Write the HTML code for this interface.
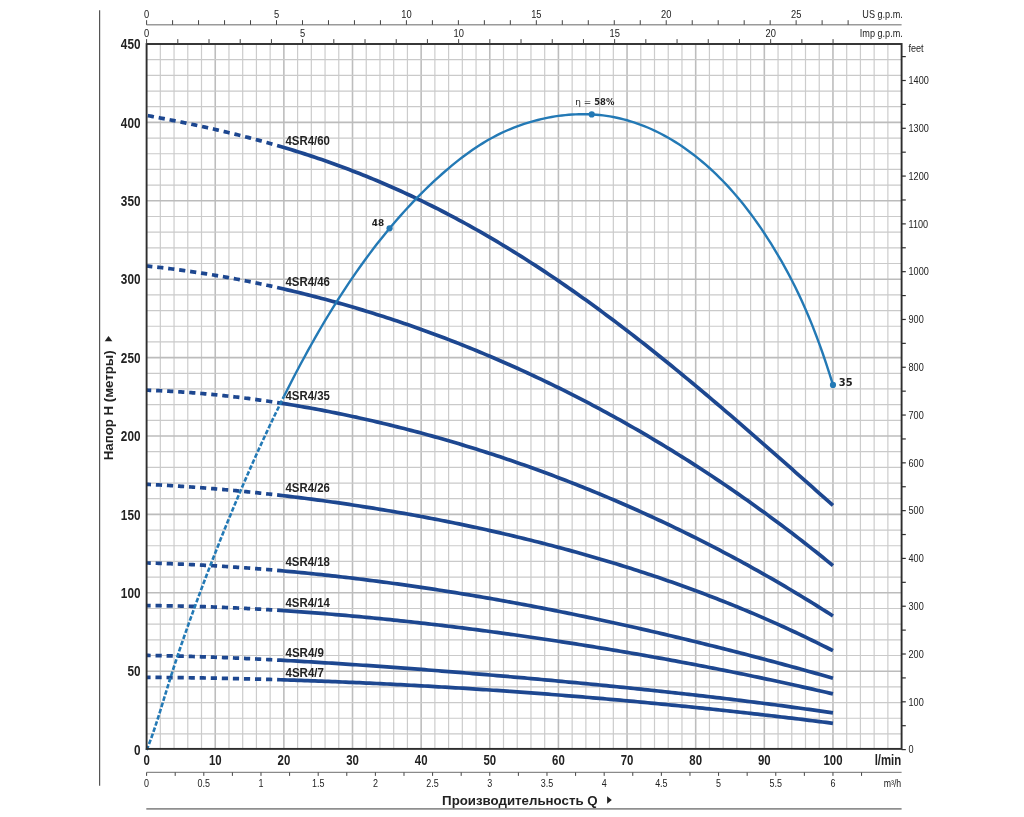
<!DOCTYPE html>
<html><head><meta charset="utf-8"><title>4SR4</title>
<style>html,body{margin:0;padding:0;background:#fff;}svg{display:block;will-change:transform;}</style>
</head><body>
<svg width="1024" height="817" viewBox="0 0 1024 817">
<rect width="1024" height="817" fill="#fff"/>
<line x1="160.33" y1="44.00" x2="160.33" y2="749.60" stroke="#cccccc" stroke-width="1.2"/>
<line x1="174.05" y1="44.00" x2="174.05" y2="749.60" stroke="#cccccc" stroke-width="1.2"/>
<line x1="187.78" y1="44.00" x2="187.78" y2="749.60" stroke="#cccccc" stroke-width="1.2"/>
<line x1="201.51" y1="44.00" x2="201.51" y2="749.60" stroke="#cccccc" stroke-width="1.2"/>
<line x1="215.24" y1="44.00" x2="215.24" y2="749.60" stroke="#bdbdbd" stroke-width="1.6"/>
<line x1="228.96" y1="44.00" x2="228.96" y2="749.60" stroke="#cccccc" stroke-width="1.2"/>
<line x1="242.69" y1="44.00" x2="242.69" y2="749.60" stroke="#cccccc" stroke-width="1.2"/>
<line x1="256.42" y1="44.00" x2="256.42" y2="749.60" stroke="#cccccc" stroke-width="1.2"/>
<line x1="270.15" y1="44.00" x2="270.15" y2="749.60" stroke="#cccccc" stroke-width="1.2"/>
<line x1="283.87" y1="44.00" x2="283.87" y2="749.60" stroke="#bdbdbd" stroke-width="1.6"/>
<line x1="297.60" y1="44.00" x2="297.60" y2="749.60" stroke="#cccccc" stroke-width="1.2"/>
<line x1="311.33" y1="44.00" x2="311.33" y2="749.60" stroke="#cccccc" stroke-width="1.2"/>
<line x1="325.05" y1="44.00" x2="325.05" y2="749.60" stroke="#cccccc" stroke-width="1.2"/>
<line x1="338.78" y1="44.00" x2="338.78" y2="749.60" stroke="#cccccc" stroke-width="1.2"/>
<line x1="352.51" y1="44.00" x2="352.51" y2="749.60" stroke="#bdbdbd" stroke-width="1.6"/>
<line x1="366.24" y1="44.00" x2="366.24" y2="749.60" stroke="#cccccc" stroke-width="1.2"/>
<line x1="379.96" y1="44.00" x2="379.96" y2="749.60" stroke="#cccccc" stroke-width="1.2"/>
<line x1="393.69" y1="44.00" x2="393.69" y2="749.60" stroke="#cccccc" stroke-width="1.2"/>
<line x1="407.42" y1="44.00" x2="407.42" y2="749.60" stroke="#cccccc" stroke-width="1.2"/>
<line x1="421.15" y1="44.00" x2="421.15" y2="749.60" stroke="#bdbdbd" stroke-width="1.6"/>
<line x1="434.87" y1="44.00" x2="434.87" y2="749.60" stroke="#cccccc" stroke-width="1.2"/>
<line x1="448.60" y1="44.00" x2="448.60" y2="749.60" stroke="#cccccc" stroke-width="1.2"/>
<line x1="462.33" y1="44.00" x2="462.33" y2="749.60" stroke="#cccccc" stroke-width="1.2"/>
<line x1="476.05" y1="44.00" x2="476.05" y2="749.60" stroke="#cccccc" stroke-width="1.2"/>
<line x1="489.78" y1="44.00" x2="489.78" y2="749.60" stroke="#bdbdbd" stroke-width="1.6"/>
<line x1="503.51" y1="44.00" x2="503.51" y2="749.60" stroke="#cccccc" stroke-width="1.2"/>
<line x1="517.24" y1="44.00" x2="517.24" y2="749.60" stroke="#cccccc" stroke-width="1.2"/>
<line x1="530.96" y1="44.00" x2="530.96" y2="749.60" stroke="#cccccc" stroke-width="1.2"/>
<line x1="544.69" y1="44.00" x2="544.69" y2="749.60" stroke="#cccccc" stroke-width="1.2"/>
<line x1="558.42" y1="44.00" x2="558.42" y2="749.60" stroke="#bdbdbd" stroke-width="1.6"/>
<line x1="572.15" y1="44.00" x2="572.15" y2="749.60" stroke="#cccccc" stroke-width="1.2"/>
<line x1="585.87" y1="44.00" x2="585.87" y2="749.60" stroke="#cccccc" stroke-width="1.2"/>
<line x1="599.60" y1="44.00" x2="599.60" y2="749.60" stroke="#cccccc" stroke-width="1.2"/>
<line x1="613.33" y1="44.00" x2="613.33" y2="749.60" stroke="#cccccc" stroke-width="1.2"/>
<line x1="627.05" y1="44.00" x2="627.05" y2="749.60" stroke="#bdbdbd" stroke-width="1.6"/>
<line x1="640.78" y1="44.00" x2="640.78" y2="749.60" stroke="#cccccc" stroke-width="1.2"/>
<line x1="654.51" y1="44.00" x2="654.51" y2="749.60" stroke="#cccccc" stroke-width="1.2"/>
<line x1="668.24" y1="44.00" x2="668.24" y2="749.60" stroke="#cccccc" stroke-width="1.2"/>
<line x1="681.96" y1="44.00" x2="681.96" y2="749.60" stroke="#cccccc" stroke-width="1.2"/>
<line x1="695.69" y1="44.00" x2="695.69" y2="749.60" stroke="#bdbdbd" stroke-width="1.6"/>
<line x1="709.42" y1="44.00" x2="709.42" y2="749.60" stroke="#cccccc" stroke-width="1.2"/>
<line x1="723.15" y1="44.00" x2="723.15" y2="749.60" stroke="#cccccc" stroke-width="1.2"/>
<line x1="736.87" y1="44.00" x2="736.87" y2="749.60" stroke="#cccccc" stroke-width="1.2"/>
<line x1="750.60" y1="44.00" x2="750.60" y2="749.60" stroke="#cccccc" stroke-width="1.2"/>
<line x1="764.33" y1="44.00" x2="764.33" y2="749.60" stroke="#bdbdbd" stroke-width="1.6"/>
<line x1="778.05" y1="44.00" x2="778.05" y2="749.60" stroke="#cccccc" stroke-width="1.2"/>
<line x1="791.78" y1="44.00" x2="791.78" y2="749.60" stroke="#cccccc" stroke-width="1.2"/>
<line x1="805.51" y1="44.00" x2="805.51" y2="749.60" stroke="#cccccc" stroke-width="1.2"/>
<line x1="819.24" y1="44.00" x2="819.24" y2="749.60" stroke="#cccccc" stroke-width="1.2"/>
<line x1="832.96" y1="44.00" x2="832.96" y2="749.60" stroke="#bdbdbd" stroke-width="1.6"/>
<line x1="846.69" y1="44.00" x2="846.69" y2="749.60" stroke="#cccccc" stroke-width="1.2"/>
<line x1="860.42" y1="44.00" x2="860.42" y2="749.60" stroke="#cccccc" stroke-width="1.2"/>
<line x1="874.15" y1="44.00" x2="874.15" y2="749.60" stroke="#cccccc" stroke-width="1.2"/>
<line x1="887.87" y1="44.00" x2="887.87" y2="749.60" stroke="#cccccc" stroke-width="1.2"/>
<line x1="146.60" y1="733.92" x2="901.60" y2="733.92" stroke="#cacaca" stroke-width="1.2"/>
<line x1="146.60" y1="718.24" x2="901.60" y2="718.24" stroke="#cacaca" stroke-width="1.2"/>
<line x1="146.60" y1="702.56" x2="901.60" y2="702.56" stroke="#cacaca" stroke-width="1.2"/>
<line x1="146.60" y1="686.88" x2="901.60" y2="686.88" stroke="#cacaca" stroke-width="1.2"/>
<line x1="146.60" y1="671.20" x2="901.60" y2="671.20" stroke="#bcbcbc" stroke-width="1.6"/>
<line x1="146.60" y1="655.52" x2="901.60" y2="655.52" stroke="#cacaca" stroke-width="1.2"/>
<line x1="146.60" y1="639.84" x2="901.60" y2="639.84" stroke="#cacaca" stroke-width="1.2"/>
<line x1="146.60" y1="624.16" x2="901.60" y2="624.16" stroke="#cacaca" stroke-width="1.2"/>
<line x1="146.60" y1="608.48" x2="901.60" y2="608.48" stroke="#cacaca" stroke-width="1.2"/>
<line x1="146.60" y1="592.80" x2="901.60" y2="592.80" stroke="#bcbcbc" stroke-width="1.6"/>
<line x1="146.60" y1="577.12" x2="901.60" y2="577.12" stroke="#cacaca" stroke-width="1.2"/>
<line x1="146.60" y1="561.44" x2="901.60" y2="561.44" stroke="#cacaca" stroke-width="1.2"/>
<line x1="146.60" y1="545.76" x2="901.60" y2="545.76" stroke="#cacaca" stroke-width="1.2"/>
<line x1="146.60" y1="530.08" x2="901.60" y2="530.08" stroke="#cacaca" stroke-width="1.2"/>
<line x1="146.60" y1="514.40" x2="901.60" y2="514.40" stroke="#bcbcbc" stroke-width="1.6"/>
<line x1="146.60" y1="498.72" x2="901.60" y2="498.72" stroke="#cacaca" stroke-width="1.2"/>
<line x1="146.60" y1="483.04" x2="901.60" y2="483.04" stroke="#cacaca" stroke-width="1.2"/>
<line x1="146.60" y1="467.36" x2="901.60" y2="467.36" stroke="#cacaca" stroke-width="1.2"/>
<line x1="146.60" y1="451.68" x2="901.60" y2="451.68" stroke="#cacaca" stroke-width="1.2"/>
<line x1="146.60" y1="436.00" x2="901.60" y2="436.00" stroke="#bcbcbc" stroke-width="1.6"/>
<line x1="146.60" y1="420.32" x2="901.60" y2="420.32" stroke="#cacaca" stroke-width="1.2"/>
<line x1="146.60" y1="404.64" x2="901.60" y2="404.64" stroke="#cacaca" stroke-width="1.2"/>
<line x1="146.60" y1="388.96" x2="901.60" y2="388.96" stroke="#cacaca" stroke-width="1.2"/>
<line x1="146.60" y1="373.28" x2="901.60" y2="373.28" stroke="#cacaca" stroke-width="1.2"/>
<line x1="146.60" y1="357.60" x2="901.60" y2="357.60" stroke="#bcbcbc" stroke-width="1.6"/>
<line x1="146.60" y1="341.92" x2="901.60" y2="341.92" stroke="#cacaca" stroke-width="1.2"/>
<line x1="146.60" y1="326.24" x2="901.60" y2="326.24" stroke="#cacaca" stroke-width="1.2"/>
<line x1="146.60" y1="310.56" x2="901.60" y2="310.56" stroke="#cacaca" stroke-width="1.2"/>
<line x1="146.60" y1="294.88" x2="901.60" y2="294.88" stroke="#cacaca" stroke-width="1.2"/>
<line x1="146.60" y1="279.20" x2="901.60" y2="279.20" stroke="#bcbcbc" stroke-width="1.6"/>
<line x1="146.60" y1="263.52" x2="901.60" y2="263.52" stroke="#cacaca" stroke-width="1.2"/>
<line x1="146.60" y1="247.84" x2="901.60" y2="247.84" stroke="#cacaca" stroke-width="1.2"/>
<line x1="146.60" y1="232.16" x2="901.60" y2="232.16" stroke="#cacaca" stroke-width="1.2"/>
<line x1="146.60" y1="216.48" x2="901.60" y2="216.48" stroke="#cacaca" stroke-width="1.2"/>
<line x1="146.60" y1="200.80" x2="901.60" y2="200.80" stroke="#bcbcbc" stroke-width="1.6"/>
<line x1="146.60" y1="185.12" x2="901.60" y2="185.12" stroke="#cacaca" stroke-width="1.2"/>
<line x1="146.60" y1="169.44" x2="901.60" y2="169.44" stroke="#cacaca" stroke-width="1.2"/>
<line x1="146.60" y1="153.76" x2="901.60" y2="153.76" stroke="#cacaca" stroke-width="1.2"/>
<line x1="146.60" y1="138.08" x2="901.60" y2="138.08" stroke="#cacaca" stroke-width="1.2"/>
<line x1="146.60" y1="122.40" x2="901.60" y2="122.40" stroke="#bcbcbc" stroke-width="1.6"/>
<line x1="146.60" y1="106.72" x2="901.60" y2="106.72" stroke="#cacaca" stroke-width="1.2"/>
<line x1="146.60" y1="91.04" x2="901.60" y2="91.04" stroke="#cacaca" stroke-width="1.2"/>
<line x1="146.60" y1="75.36" x2="901.60" y2="75.36" stroke="#cacaca" stroke-width="1.2"/>
<line x1="146.60" y1="59.68" x2="901.60" y2="59.68" stroke="#cacaca" stroke-width="1.2"/>
<path d="M146.60,115.42 L148.32,115.73 L150.03,116.05 L151.75,116.37 L153.46,116.70 L155.18,117.02 L156.90,117.34 L158.61,117.67 L160.33,118.00 L162.04,118.33 L163.76,118.66 L165.47,118.99 L167.19,119.32 L168.91,119.66 L170.62,119.99 L172.34,120.33 L174.05,120.67 L175.77,121.02 L177.49,121.36 L179.20,121.71 L180.92,122.06 L182.63,122.41 L184.35,122.76 L186.07,123.11 L187.78,123.47 L189.50,123.82 L191.21,124.18 L192.93,124.55 L194.65,124.91 L196.36,125.28 L198.08,125.65 L199.79,126.02 L201.51,126.39 L203.22,126.77 L204.94,127.14 L206.66,127.52 L208.37,127.91 L210.09,128.29 L211.80,128.68 L213.52,129.07 L215.24,129.46 L216.95,129.85 L218.67,130.25 L220.38,130.65 L222.10,131.05 L223.82,131.46 L225.53,131.86 L227.25,132.27 L228.96,132.69 L230.68,133.10 L232.40,133.52 L234.11,133.94 L235.83,134.36 L237.54,134.79 L239.26,135.22 L240.97,135.65 L242.69,136.09 L244.41,136.53 L246.12,136.97 L247.84,137.41 L249.55,137.86 L251.27,138.31 L252.99,138.76 L254.70,139.22 L256.42,139.67 L258.13,140.14 L259.85,140.60 L261.57,141.07 L263.28,141.54 L265.00,142.02 L266.71,142.49 L268.43,142.97 L270.15,143.46 L271.86,143.95 L273.58,144.44 L275.29,144.93 L277.01,145.43 L277.10,145.45" fill="none" stroke="#1d4790" stroke-width="3.7" stroke-dasharray="6.2 4.86" stroke-dashoffset="9.81"/>
<path d="M277.10,145.45 L280.53,146.46 L283.96,147.48 L287.40,148.51 L290.83,149.56 L294.26,150.61 L297.69,151.69 L301.12,152.78 L304.55,153.88 L307.99,155.00 L311.42,156.13 L314.85,157.27 L318.28,158.44 L321.71,159.61 L325.15,160.80 L328.58,162.01 L332.01,163.23 L335.44,164.47 L338.87,165.72 L342.30,166.99 L345.74,168.28 L349.17,169.58 L352.60,170.90 L356.03,172.23 L359.46,173.58 L362.90,174.94 L366.33,176.32 L369.76,177.72 L373.19,179.14 L376.62,180.57 L380.05,182.01 L383.49,183.48 L386.92,184.96 L390.35,186.46 L393.78,187.97 L397.21,189.50 L400.65,191.05 L404.08,192.62 L407.51,194.20 L410.94,195.80 L414.37,197.42 L417.80,199.05 L421.24,200.70 L424.67,202.37 L428.10,204.06 L431.53,205.76 L434.96,207.48 L438.40,209.22 L441.83,210.98 L445.26,212.75 L448.69,214.54 L452.12,216.35 L455.55,218.17 L458.99,220.02 L462.42,221.88 L465.85,223.75 L469.28,225.65 L472.71,227.56 L476.15,229.49 L479.58,231.44 L483.01,233.40 L486.44,235.38 L489.87,237.38 L493.30,239.39 L496.74,241.43 L500.17,243.48 L503.60,245.54 L507.03,247.63 L510.46,249.73 L513.90,251.85 L517.33,253.98 L520.76,256.13 L524.19,258.30 L527.62,260.49 L531.05,262.69 L534.49,264.91 L537.92,267.14 L541.35,269.39 L544.78,271.66 L548.21,273.95 L551.65,276.25 L555.08,278.56 L558.51,280.90 L561.94,283.24 L565.37,285.61 L568.80,287.99 L572.24,290.38 L575.67,292.79 L579.10,295.22 L582.53,297.66 L585.96,300.12 L589.40,302.59 L592.83,305.08 L596.26,307.58 L599.69,310.09 L603.12,312.62 L606.55,315.17 L609.99,317.73 L613.42,320.30 L616.85,322.89 L620.28,325.49 L623.71,328.10 L627.15,330.73 L630.58,333.37 L634.01,336.03 L637.44,338.70 L640.87,341.38 L644.30,344.07 L647.74,346.78 L651.17,349.49 L654.60,352.22 L658.03,354.97 L661.46,357.72 L664.90,360.49 L668.33,363.26 L671.76,366.05 L675.19,368.85 L678.62,371.66 L682.05,374.48 L685.49,377.31 L688.92,380.16 L692.35,383.01 L695.78,385.87 L699.21,388.74 L702.65,391.62 L706.08,394.51 L709.51,397.41 L712.94,400.32 L716.37,403.23 L719.80,406.16 L723.24,409.09 L726.67,412.03 L730.10,414.97 L733.53,417.93 L736.96,420.89 L740.40,423.86 L743.83,426.83 L747.26,429.81 L750.69,432.80 L754.12,435.79 L757.55,438.79 L760.99,441.79 L764.42,444.79 L767.85,447.81 L771.28,450.82 L774.71,453.84 L778.15,456.87 L781.58,459.89 L785.01,462.92 L788.44,465.95 L791.87,468.99 L795.30,472.03 L798.74,475.07 L802.17,478.11 L805.60,481.15 L809.03,484.19 L812.46,487.24 L815.90,490.28 L819.33,493.32 L822.76,496.37 L826.19,499.41 L829.62,502.45 L832.96,505.41" fill="none" stroke="#1d4790" stroke-width="3.7"/>
<path d="M146.60,266.00 L148.32,266.18 L150.03,266.36 L151.75,266.54 L153.46,266.73 L155.18,266.92 L156.90,267.11 L158.61,267.31 L160.33,267.51 L162.04,267.71 L163.76,267.91 L165.47,268.12 L167.19,268.33 L168.91,268.54 L170.62,268.76 L172.34,268.98 L174.05,269.20 L175.77,269.42 L177.49,269.65 L179.20,269.88 L180.92,270.11 L182.63,270.34 L184.35,270.58 L186.07,270.82 L187.78,271.06 L189.50,271.31 L191.21,271.56 L192.93,271.81 L194.65,272.06 L196.36,272.32 L198.08,272.58 L199.79,272.84 L201.51,273.11 L203.22,273.37 L204.94,273.64 L206.66,273.92 L208.37,274.19 L210.09,274.47 L211.80,274.75 L213.52,275.04 L215.24,275.32 L216.95,275.61 L218.67,275.90 L220.38,276.20 L222.10,276.50 L223.82,276.80 L225.53,277.10 L227.25,277.41 L228.96,277.71 L230.68,278.03 L232.40,278.34 L234.11,278.66 L235.83,278.98 L237.54,279.30 L239.26,279.62 L240.97,279.95 L242.69,280.28 L244.41,280.61 L246.12,280.95 L247.84,281.29 L249.55,281.63 L251.27,281.97 L252.99,282.32 L254.70,282.67 L256.42,283.02 L258.13,283.37 L259.85,283.73 L261.57,284.09 L263.28,284.45 L265.00,284.82 L266.71,285.19 L268.43,285.56 L270.15,285.93 L271.86,286.31 L273.58,286.69 L275.29,287.07 L277.01,287.45 L277.10,287.47" fill="none" stroke="#1d4790" stroke-width="3.7" stroke-dasharray="6.2 4.86" stroke-dashoffset="0.39"/>
<path d="M277.10,287.47 L280.53,288.25 L283.96,289.04 L287.40,289.84 L290.83,290.65 L294.26,291.47 L297.69,292.30 L301.12,293.14 L304.55,293.99 L307.99,294.85 L311.42,295.73 L314.85,296.61 L318.28,297.51 L321.71,298.42 L325.15,299.33 L328.58,300.26 L332.01,301.20 L335.44,302.15 L338.87,303.11 L342.30,304.08 L345.74,305.07 L349.17,306.06 L352.60,307.06 L356.03,308.08 L359.46,309.11 L362.90,310.14 L366.33,311.19 L369.76,312.25 L373.19,313.32 L376.62,314.40 L380.05,315.49 L383.49,316.59 L386.92,317.71 L390.35,318.83 L393.78,319.97 L397.21,321.11 L400.65,322.27 L404.08,323.44 L407.51,324.62 L410.94,325.81 L414.37,327.01 L417.80,328.22 L421.24,329.45 L424.67,330.68 L428.10,331.93 L431.53,333.19 L434.96,334.45 L438.40,335.73 L441.83,337.02 L445.26,338.33 L448.69,339.64 L452.12,340.96 L455.55,342.30 L458.99,343.65 L462.42,345.01 L465.85,346.38 L469.28,347.76 L472.71,349.15 L476.15,350.55 L479.58,351.97 L483.01,353.40 L486.44,354.84 L489.87,356.29 L493.30,357.75 L496.74,359.22 L500.17,360.71 L503.60,362.20 L507.03,363.71 L510.46,365.23 L513.90,366.76 L517.33,368.30 L520.76,369.86 L524.19,371.43 L527.62,373.01 L531.05,374.60 L534.49,376.20 L537.92,377.81 L541.35,379.44 L544.78,381.08 L548.21,382.73 L551.65,384.39 L555.08,386.06 L558.51,387.75 L561.94,389.45 L565.37,391.16 L568.80,392.88 L572.24,394.62 L575.67,396.36 L579.10,398.12 L582.53,399.90 L585.96,401.68 L589.40,403.48 L592.83,405.29 L596.26,407.11 L599.69,408.94 L603.12,410.79 L606.55,412.65 L609.99,414.52 L613.42,416.41 L616.85,418.31 L620.28,420.22 L623.71,422.14 L627.15,424.08 L630.58,426.03 L634.01,427.99 L637.44,429.96 L640.87,431.95 L644.30,433.95 L647.74,435.97 L651.17,437.99 L654.60,440.04 L658.03,442.09 L661.46,444.16 L664.90,446.24 L668.33,448.33 L671.76,450.44 L675.19,452.56 L678.62,454.70 L682.05,456.84 L685.49,459.01 L688.92,461.18 L692.35,463.37 L695.78,465.57 L699.21,467.79 L702.65,470.02 L706.08,472.27 L709.51,474.53 L712.94,476.80 L716.37,479.09 L719.80,481.39 L723.24,483.70 L726.67,486.03 L730.10,488.38 L733.53,490.74 L736.96,493.11 L740.40,495.50 L743.83,497.90 L747.26,500.32 L750.69,502.75 L754.12,505.19 L757.55,507.66 L760.99,510.13 L764.42,512.62 L767.85,515.13 L771.28,517.65 L774.71,520.18 L778.15,522.74 L781.58,525.30 L785.01,527.88 L788.44,530.48 L791.87,533.09 L795.30,535.72 L798.74,538.36 L802.17,541.02 L805.60,543.70 L809.03,546.39 L812.46,549.09 L815.90,551.82 L819.33,554.55 L822.76,557.31 L826.19,560.08 L829.62,562.86 L832.96,565.59" fill="none" stroke="#1d4790" stroke-width="3.7"/>
<path d="M146.60,390.17 L148.32,390.23 L150.03,390.29 L151.75,390.36 L153.46,390.43 L155.18,390.50 L156.90,390.58 L158.61,390.66 L160.33,390.74 L162.04,390.82 L163.76,390.91 L165.47,390.99 L167.19,391.09 L168.91,391.18 L170.62,391.28 L172.34,391.38 L174.05,391.48 L175.77,391.59 L177.49,391.70 L179.20,391.81 L180.92,391.92 L182.63,392.04 L184.35,392.16 L186.07,392.28 L187.78,392.40 L189.50,392.53 L191.21,392.66 L192.93,392.80 L194.65,392.93 L196.36,393.07 L198.08,393.21 L199.79,393.35 L201.51,393.50 L203.22,393.65 L204.94,393.80 L206.66,393.96 L208.37,394.11 L210.09,394.27 L211.80,394.44 L213.52,394.60 L215.24,394.77 L216.95,394.94 L218.67,395.11 L220.38,395.29 L222.10,395.47 L223.82,395.65 L225.53,395.83 L227.25,396.02 L228.96,396.21 L230.68,396.40 L232.40,396.59 L234.11,396.79 L235.83,396.99 L237.54,397.19 L239.26,397.40 L240.97,397.60 L242.69,397.81 L244.41,398.02 L246.12,398.24 L247.84,398.46 L249.55,398.68 L251.27,398.90 L252.99,399.12 L254.70,399.35 L256.42,399.58 L258.13,399.81 L259.85,400.05 L261.57,400.29 L263.28,400.53 L265.00,400.77 L266.71,401.01 L268.43,401.26 L270.15,401.51 L271.86,401.77 L273.58,402.02 L275.29,402.28 L277.01,402.54 L277.10,402.55" fill="none" stroke="#1d4790" stroke-width="3.7" stroke-dasharray="6.2 4.86" stroke-dashoffset="1.56"/>
<path d="M277.10,402.55 L280.53,403.08 L283.96,403.62 L287.40,404.17 L290.83,404.73 L294.26,405.29 L297.69,405.87 L301.12,406.46 L304.55,407.06 L307.99,407.66 L311.42,408.28 L314.85,408.91 L318.28,409.55 L321.71,410.19 L325.15,410.85 L328.58,411.51 L332.01,412.19 L335.44,412.87 L338.87,413.57 L342.30,414.27 L345.74,414.99 L349.17,415.71 L352.60,416.44 L356.03,417.18 L359.46,417.94 L362.90,418.70 L366.33,419.47 L369.76,420.25 L373.19,421.04 L376.62,421.84 L380.05,422.65 L383.49,423.46 L386.92,424.29 L390.35,425.13 L393.78,425.98 L397.21,426.83 L400.65,427.70 L404.08,428.57 L407.51,429.45 L410.94,430.35 L414.37,431.25 L417.80,432.16 L421.24,433.08 L424.67,434.01 L428.10,434.95 L431.53,435.90 L434.96,436.86 L438.40,437.83 L441.83,438.81 L445.26,439.80 L448.69,440.79 L452.12,441.80 L455.55,442.81 L458.99,443.84 L462.42,444.87 L465.85,445.91 L469.28,446.97 L472.71,448.03 L476.15,449.10 L479.58,450.18 L483.01,451.27 L486.44,452.37 L489.87,453.48 L493.30,454.60 L496.74,455.73 L500.17,456.86 L503.60,458.01 L507.03,459.17 L510.46,460.33 L513.90,461.51 L517.33,462.69 L520.76,463.89 L524.19,465.09 L527.62,466.30 L531.05,467.53 L534.49,468.76 L537.92,470.00 L541.35,471.25 L544.78,472.51 L548.21,473.78 L551.65,475.06 L555.08,476.36 L558.51,477.66 L561.94,478.97 L565.37,480.28 L568.80,481.61 L572.24,482.95 L575.67,484.30 L579.10,485.66 L582.53,487.03 L585.96,488.41 L589.40,489.80 L592.83,491.20 L596.26,492.60 L599.69,494.02 L603.12,495.45 L606.55,496.89 L609.99,498.34 L613.42,499.80 L616.85,501.27 L620.28,502.74 L623.71,504.23 L627.15,505.73 L630.58,507.24 L634.01,508.76 L637.44,510.29 L640.87,511.83 L644.30,513.39 L647.74,514.95 L651.17,516.52 L654.60,518.10 L658.03,519.70 L661.46,521.30 L664.90,522.91 L668.33,524.54 L671.76,526.17 L675.19,527.82 L678.62,529.48 L682.05,531.15 L685.49,532.83 L688.92,534.52 L692.35,536.22 L695.78,537.93 L699.21,539.65 L702.65,541.39 L706.08,543.13 L709.51,544.89 L712.94,546.66 L716.37,548.43 L719.80,550.22 L723.24,552.03 L726.67,553.84 L730.10,555.66 L733.53,557.50 L736.96,559.35 L740.40,561.21 L743.83,563.08 L747.26,564.96 L750.69,566.86 L754.12,568.76 L757.55,570.68 L760.99,572.61 L764.42,574.55 L767.85,576.51 L771.28,578.47 L774.71,580.45 L778.15,582.44 L781.58,584.45 L785.01,586.46 L788.44,588.49 L791.87,590.53 L795.30,592.58 L798.74,594.65 L802.17,596.73 L805.60,598.82 L809.03,600.92 L812.46,603.04 L815.90,605.17 L819.33,607.31 L822.76,609.46 L826.19,611.63 L829.62,613.81 L832.96,615.95" fill="none" stroke="#1d4790" stroke-width="3.7"/>
<path d="M146.60,484.31 L148.32,484.40 L150.03,484.48 L151.75,484.57 L153.46,484.66 L155.18,484.75 L156.90,484.84 L158.61,484.93 L160.33,485.02 L162.04,485.12 L163.76,485.22 L165.47,485.32 L167.19,485.42 L168.91,485.52 L170.62,485.62 L172.34,485.73 L174.05,485.83 L175.77,485.94 L177.49,486.05 L179.20,486.16 L180.92,486.28 L182.63,486.39 L184.35,486.51 L186.07,486.62 L187.78,486.74 L189.50,486.86 L191.21,486.98 L192.93,487.11 L194.65,487.23 L196.36,487.36 L198.08,487.49 L199.79,487.62 L201.51,487.75 L203.22,487.88 L204.94,488.01 L206.66,488.15 L208.37,488.28 L210.09,488.42 L211.80,488.56 L213.52,488.70 L215.24,488.85 L216.95,488.99 L218.67,489.14 L220.38,489.28 L222.10,489.43 L223.82,489.58 L225.53,489.73 L227.25,489.89 L228.96,490.04 L230.68,490.20 L232.40,490.35 L234.11,490.51 L235.83,490.67 L237.54,490.83 L239.26,491.00 L240.97,491.16 L242.69,491.33 L244.41,491.50 L246.12,491.66 L247.84,491.84 L249.55,492.01 L251.27,492.18 L252.99,492.36 L254.70,492.53 L256.42,492.71 L258.13,492.89 L259.85,493.07 L261.57,493.25 L263.28,493.43 L265.00,493.62 L266.71,493.81 L268.43,493.99 L270.15,494.18 L271.86,494.37 L273.58,494.56 L275.29,494.76 L277.01,494.95 L277.10,494.96" fill="none" stroke="#1d4790" stroke-width="3.7" stroke-dasharray="6.2 4.86" stroke-dashoffset="1.76"/>
<path d="M277.10,494.96 L280.53,495.36 L283.96,495.76 L287.40,496.16 L290.83,496.58 L294.26,496.99 L297.69,497.42 L301.12,497.84 L304.55,498.28 L307.99,498.72 L311.42,499.17 L314.85,499.62 L318.28,500.08 L321.71,500.54 L325.15,501.01 L328.58,501.48 L332.01,501.96 L335.44,502.45 L338.87,502.94 L342.30,503.44 L345.74,503.94 L349.17,504.45 L352.60,504.97 L356.03,505.49 L359.46,506.02 L362.90,506.55 L366.33,507.09 L369.76,507.63 L373.19,508.19 L376.62,508.74 L380.05,509.30 L383.49,509.87 L386.92,510.45 L390.35,511.03 L393.78,511.62 L397.21,512.21 L400.65,512.81 L404.08,513.41 L407.51,514.02 L410.94,514.64 L414.37,515.26 L417.80,515.89 L421.24,516.53 L424.67,517.17 L428.10,517.82 L431.53,518.47 L434.96,519.13 L438.40,519.80 L441.83,520.47 L445.26,521.15 L448.69,521.84 L452.12,522.53 L455.55,523.23 L458.99,523.93 L462.42,524.65 L465.85,525.36 L469.28,526.09 L472.71,526.82 L476.15,527.56 L479.58,528.30 L483.01,529.06 L486.44,529.81 L489.87,530.58 L493.30,531.35 L496.74,532.13 L500.17,532.92 L503.60,533.71 L507.03,534.51 L510.46,535.32 L513.90,536.13 L517.33,536.95 L520.76,537.78 L524.19,538.61 L527.62,539.46 L531.05,540.31 L534.49,541.17 L537.92,542.03 L541.35,542.90 L544.78,543.78 L548.21,544.67 L551.65,545.56 L555.08,546.47 L558.51,547.38 L561.94,548.29 L565.37,549.22 L568.80,550.15 L572.24,551.10 L575.67,552.05 L579.10,553.00 L582.53,553.97 L585.96,554.94 L589.40,555.92 L592.83,556.91 L596.26,557.91 L599.69,558.92 L603.12,559.93 L606.55,560.96 L609.99,561.99 L613.42,563.03 L616.85,564.08 L620.28,565.14 L623.71,566.20 L627.15,567.28 L630.58,568.36 L634.01,569.46 L637.44,570.56 L640.87,571.67 L644.30,572.79 L647.74,573.92 L651.17,575.06 L654.60,576.21 L658.03,577.37 L661.46,578.53 L664.90,579.71 L668.33,580.90 L671.76,582.09 L675.19,583.30 L678.62,584.52 L682.05,585.74 L685.49,586.98 L688.92,588.22 L692.35,589.48 L695.78,590.75 L699.21,592.02 L702.65,593.31 L706.08,594.61 L709.51,595.92 L712.94,597.24 L716.37,598.57 L719.80,599.91 L723.24,601.26 L726.67,602.62 L730.10,603.99 L733.53,605.38 L736.96,606.77 L740.40,608.18 L743.83,609.60 L747.26,611.03 L750.69,612.47 L754.12,613.92 L757.55,615.39 L760.99,616.86 L764.42,618.35 L767.85,619.85 L771.28,621.36 L774.71,622.89 L778.15,624.42 L781.58,625.97 L785.01,627.54 L788.44,629.11 L791.87,630.70 L795.30,632.30 L798.74,633.91 L802.17,635.54 L805.60,637.17 L809.03,638.83 L812.46,640.49 L815.90,642.17 L819.33,643.86 L822.76,645.57 L826.19,647.28 L829.62,649.02 L832.96,650.72" fill="none" stroke="#1d4790" stroke-width="3.7"/>
<path d="M146.60,562.98 L148.32,563.02 L150.03,563.07 L151.75,563.11 L153.46,563.16 L155.18,563.21 L156.90,563.26 L158.61,563.31 L160.33,563.37 L162.04,563.42 L163.76,563.48 L165.47,563.54 L167.19,563.60 L168.91,563.66 L170.62,563.72 L172.34,563.79 L174.05,563.85 L175.77,563.92 L177.49,563.99 L179.20,564.06 L180.92,564.13 L182.63,564.20 L184.35,564.28 L186.07,564.35 L187.78,564.43 L189.50,564.51 L191.21,564.59 L192.93,564.67 L194.65,564.75 L196.36,564.84 L198.08,564.92 L199.79,565.01 L201.51,565.10 L203.22,565.19 L204.94,565.28 L206.66,565.37 L208.37,565.47 L210.09,565.56 L211.80,565.66 L213.52,565.76 L215.24,565.86 L216.95,565.96 L218.67,566.06 L220.38,566.17 L222.10,566.27 L223.82,566.38 L225.53,566.49 L227.25,566.60 L228.96,566.71 L230.68,566.82 L232.40,566.93 L234.11,567.05 L235.83,567.16 L237.54,567.28 L239.26,567.40 L240.97,567.52 L242.69,567.64 L244.41,567.77 L246.12,567.89 L247.84,568.02 L249.55,568.14 L251.27,568.27 L252.99,568.40 L254.70,568.53 L256.42,568.66 L258.13,568.80 L259.85,568.93 L261.57,569.07 L263.28,569.21 L265.00,569.35 L266.71,569.49 L268.43,569.63 L270.15,569.77 L271.86,569.92 L273.58,570.06 L275.29,570.21 L277.01,570.36 L277.10,570.37" fill="none" stroke="#1d4790" stroke-width="3.7" stroke-dasharray="6.2 4.86" stroke-dashoffset="1.99"/>
<path d="M277.10,570.37 L280.53,570.67 L283.96,570.97 L287.40,571.29 L290.83,571.60 L294.26,571.93 L297.69,572.25 L301.12,572.59 L304.55,572.92 L307.99,573.27 L311.42,573.61 L314.85,573.97 L318.28,574.32 L321.71,574.69 L325.15,575.06 L328.58,575.43 L332.01,575.81 L335.44,576.19 L338.87,576.58 L342.30,576.97 L345.74,577.37 L349.17,577.78 L352.60,578.19 L356.03,578.60 L359.46,579.02 L362.90,579.44 L366.33,579.87 L369.76,580.30 L373.19,580.74 L376.62,581.18 L380.05,581.63 L383.49,582.08 L386.92,582.54 L390.35,583.00 L393.78,583.47 L397.21,583.94 L400.65,584.42 L404.08,584.90 L407.51,585.39 L410.94,585.88 L414.37,586.37 L417.80,586.87 L421.24,587.38 L424.67,587.89 L428.10,588.40 L431.53,588.92 L434.96,589.45 L438.40,589.97 L441.83,590.51 L445.26,591.05 L448.69,591.59 L452.12,592.13 L455.55,592.68 L458.99,593.24 L462.42,593.80 L465.85,594.37 L469.28,594.93 L472.71,595.51 L476.15,596.09 L479.58,596.67 L483.01,597.26 L486.44,597.85 L489.87,598.44 L493.30,599.04 L496.74,599.65 L500.17,600.26 L503.60,600.87 L507.03,601.49 L510.46,602.11 L513.90,602.74 L517.33,603.37 L520.76,604.00 L524.19,604.64 L527.62,605.29 L531.05,605.93 L534.49,606.59 L537.92,607.24 L541.35,607.90 L544.78,608.57 L548.21,609.24 L551.65,609.91 L555.08,610.59 L558.51,611.27 L561.94,611.95 L565.37,612.64 L568.80,613.34 L572.24,614.04 L575.67,614.74 L579.10,615.44 L582.53,616.16 L585.96,616.87 L589.40,617.59 L592.83,618.31 L596.26,619.04 L599.69,619.77 L603.12,620.50 L606.55,621.24 L609.99,621.98 L613.42,622.73 L616.85,623.48 L620.28,624.23 L623.71,624.99 L627.15,625.75 L630.58,626.52 L634.01,627.29 L637.44,628.06 L640.87,628.84 L644.30,629.62 L647.74,630.41 L651.17,631.20 L654.60,631.99 L658.03,632.79 L661.46,633.59 L664.90,634.39 L668.33,635.20 L671.76,636.01 L675.19,636.83 L678.62,637.65 L682.05,638.47 L685.49,639.30 L688.92,640.13 L692.35,640.96 L695.78,641.80 L699.21,642.64 L702.65,643.49 L706.08,644.33 L709.51,645.19 L712.94,646.04 L716.37,646.90 L719.80,647.77 L723.24,648.63 L726.67,649.50 L730.10,650.38 L733.53,651.25 L736.96,652.14 L740.40,653.02 L743.83,653.91 L747.26,654.80 L750.69,655.70 L754.12,656.59 L757.55,657.50 L760.99,658.40 L764.42,659.31 L767.85,660.22 L771.28,661.14 L774.71,662.06 L778.15,662.98 L781.58,663.91 L785.01,664.84 L788.44,665.77 L791.87,666.71 L795.30,667.65 L798.74,668.59 L802.17,669.54 L805.60,670.49 L809.03,671.44 L812.46,672.40 L815.90,673.36 L819.33,674.32 L822.76,675.29 L826.19,676.26 L829.62,677.23 L832.96,678.18" fill="none" stroke="#1d4790" stroke-width="3.7"/>
<path d="M146.60,605.60 L148.32,605.61 L150.03,605.62 L151.75,605.63 L153.46,605.64 L155.18,605.66 L156.90,605.67 L158.61,605.69 L160.33,605.71 L162.04,605.73 L163.76,605.75 L165.47,605.78 L167.19,605.80 L168.91,605.83 L170.62,605.86 L172.34,605.89 L174.05,605.92 L175.77,605.95 L177.49,605.98 L179.20,606.02 L180.92,606.06 L182.63,606.09 L184.35,606.13 L186.07,606.17 L187.78,606.22 L189.50,606.26 L191.21,606.31 L192.93,606.35 L194.65,606.40 L196.36,606.45 L198.08,606.50 L199.79,606.55 L201.51,606.60 L203.22,606.66 L204.94,606.71 L206.66,606.77 L208.37,606.83 L210.09,606.89 L211.80,606.95 L213.52,607.01 L215.24,607.08 L216.95,607.14 L218.67,607.21 L220.38,607.28 L222.10,607.34 L223.82,607.42 L225.53,607.49 L227.25,607.56 L228.96,607.63 L230.68,607.71 L232.40,607.79 L234.11,607.86 L235.83,607.94 L237.54,608.02 L239.26,608.10 L240.97,608.19 L242.69,608.27 L244.41,608.36 L246.12,608.44 L247.84,608.53 L249.55,608.62 L251.27,608.71 L252.99,608.80 L254.70,608.89 L256.42,608.99 L258.13,609.08 L259.85,609.18 L261.57,609.28 L263.28,609.37 L265.00,609.47 L266.71,609.58 L268.43,609.68 L270.15,609.78 L271.86,609.89 L273.58,609.99 L275.29,610.10 L277.01,610.21 L277.10,610.21" fill="none" stroke="#1d4790" stroke-width="3.7" stroke-dasharray="6.2 4.86" stroke-dashoffset="2.12"/>
<path d="M277.10,610.21 L280.53,610.43 L283.96,610.65 L287.40,610.88 L290.83,611.12 L294.26,611.35 L297.69,611.60 L301.12,611.84 L304.55,612.09 L307.99,612.35 L311.42,612.61 L314.85,612.87 L318.28,613.14 L321.71,613.41 L325.15,613.69 L328.58,613.97 L332.01,614.25 L335.44,614.54 L338.87,614.84 L342.30,615.13 L345.74,615.44 L349.17,615.74 L352.60,616.05 L356.03,616.36 L359.46,616.68 L362.90,617.00 L366.33,617.33 L369.76,617.66 L373.19,617.99 L376.62,618.33 L380.05,618.67 L383.49,619.01 L386.92,619.36 L390.35,619.71 L393.78,620.07 L397.21,620.43 L400.65,620.79 L404.08,621.16 L407.51,621.53 L410.94,621.91 L414.37,622.28 L417.80,622.67 L421.24,623.05 L424.67,623.44 L428.10,623.83 L431.53,624.23 L434.96,624.63 L438.40,625.03 L441.83,625.44 L445.26,625.85 L448.69,626.26 L452.12,626.68 L455.55,627.10 L458.99,627.53 L462.42,627.95 L465.85,628.39 L469.28,628.82 L472.71,629.26 L476.15,629.70 L479.58,630.14 L483.01,630.59 L486.44,631.04 L489.87,631.50 L493.30,631.96 L496.74,632.42 L500.17,632.88 L503.60,633.35 L507.03,633.82 L510.46,634.30 L513.90,634.78 L517.33,635.26 L520.76,635.74 L524.19,636.23 L527.62,636.72 L531.05,637.22 L534.49,637.72 L537.92,638.22 L541.35,638.72 L544.78,639.23 L548.21,639.74 L551.65,640.26 L555.08,640.77 L558.51,641.29 L561.94,641.82 L565.37,642.35 L568.80,642.88 L572.24,643.41 L575.67,643.95 L579.10,644.49 L582.53,645.03 L585.96,645.58 L589.40,646.13 L592.83,646.68 L596.26,647.24 L599.69,647.80 L603.12,648.36 L606.55,648.93 L609.99,649.50 L613.42,650.07 L616.85,650.64 L620.28,651.22 L623.71,651.81 L627.15,652.39 L630.58,652.98 L634.01,653.57 L637.44,654.17 L640.87,654.77 L644.30,655.37 L647.74,655.97 L651.17,656.58 L654.60,657.20 L658.03,657.81 L661.46,658.43 L664.90,659.05 L668.33,659.68 L671.76,660.31 L675.19,660.94 L678.62,661.57 L682.05,662.21 L685.49,662.86 L688.92,663.50 L692.35,664.15 L695.78,664.80 L699.21,665.46 L702.65,666.12 L706.08,666.78 L709.51,667.45 L712.94,668.12 L716.37,668.79 L719.80,669.47 L723.24,670.15 L726.67,670.83 L730.10,671.52 L733.53,672.21 L736.96,672.91 L740.40,673.61 L743.83,674.31 L747.26,675.01 L750.69,675.72 L754.12,676.44 L757.55,677.15 L760.99,677.87 L764.42,678.60 L767.85,679.33 L771.28,680.06 L774.71,680.79 L778.15,681.53 L781.58,682.28 L785.01,683.02 L788.44,683.78 L791.87,684.53 L795.30,685.29 L798.74,686.05 L802.17,686.82 L805.60,687.59 L809.03,688.36 L812.46,689.14 L815.90,689.93 L819.33,690.71 L822.76,691.51 L826.19,692.30 L829.62,693.10 L832.96,693.88" fill="none" stroke="#1d4790" stroke-width="3.7"/>
<path d="M146.60,655.43 L148.32,655.45 L150.03,655.48 L151.75,655.51 L153.46,655.54 L155.18,655.57 L156.90,655.60 L158.61,655.64 L160.33,655.67 L162.04,655.71 L163.76,655.74 L165.47,655.78 L167.19,655.82 L168.91,655.86 L170.62,655.90 L172.34,655.94 L174.05,655.98 L175.77,656.02 L177.49,656.07 L179.20,656.11 L180.92,656.16 L182.63,656.20 L184.35,656.25 L186.07,656.30 L187.78,656.35 L189.50,656.40 L191.21,656.45 L192.93,656.50 L194.65,656.56 L196.36,656.61 L198.08,656.66 L199.79,656.72 L201.51,656.78 L203.22,656.83 L204.94,656.89 L206.66,656.95 L208.37,657.01 L210.09,657.07 L211.80,657.13 L213.52,657.20 L215.24,657.26 L216.95,657.32 L218.67,657.39 L220.38,657.45 L222.10,657.52 L223.82,657.59 L225.53,657.65 L227.25,657.72 L228.96,657.79 L230.68,657.86 L232.40,657.93 L234.11,658.01 L235.83,658.08 L237.54,658.15 L239.26,658.23 L240.97,658.30 L242.69,658.38 L244.41,658.45 L246.12,658.53 L247.84,658.61 L249.55,658.69 L251.27,658.76 L252.99,658.84 L254.70,658.92 L256.42,659.01 L258.13,659.09 L259.85,659.17 L261.57,659.25 L263.28,659.34 L265.00,659.42 L266.71,659.51 L268.43,659.59 L270.15,659.68 L271.86,659.77 L273.58,659.86 L275.29,659.94 L277.01,660.03 L277.10,660.04" fill="none" stroke="#1d4790" stroke-width="3.7" stroke-dasharray="6.2 4.86" stroke-dashoffset="2.13"/>
<path d="M277.10,660.04 L280.53,660.22 L283.96,660.40 L287.40,660.59 L290.83,660.77 L294.26,660.96 L297.69,661.16 L301.12,661.35 L304.55,661.55 L307.99,661.75 L311.42,661.95 L314.85,662.15 L318.28,662.36 L321.71,662.57 L325.15,662.78 L328.58,662.99 L332.01,663.21 L335.44,663.42 L338.87,663.64 L342.30,663.86 L345.74,664.09 L349.17,664.31 L352.60,664.54 L356.03,664.77 L359.46,665.00 L362.90,665.23 L366.33,665.46 L369.76,665.70 L373.19,665.94 L376.62,666.18 L380.05,666.42 L383.49,666.66 L386.92,666.90 L390.35,667.15 L393.78,667.40 L397.21,667.65 L400.65,667.90 L404.08,668.15 L407.51,668.41 L410.94,668.67 L414.37,668.92 L417.80,669.18 L421.24,669.44 L424.67,669.71 L428.10,669.97 L431.53,670.24 L434.96,670.50 L438.40,670.77 L441.83,671.04 L445.26,671.31 L448.69,671.59 L452.12,671.86 L455.55,672.14 L458.99,672.42 L462.42,672.69 L465.85,672.98 L469.28,673.26 L472.71,673.54 L476.15,673.83 L479.58,674.11 L483.01,674.40 L486.44,674.69 L489.87,674.98 L493.30,675.27 L496.74,675.56 L500.17,675.86 L503.60,676.15 L507.03,676.45 L510.46,676.75 L513.90,677.05 L517.33,677.35 L520.76,677.66 L524.19,677.96 L527.62,678.27 L531.05,678.57 L534.49,678.88 L537.92,679.19 L541.35,679.50 L544.78,679.82 L548.21,680.13 L551.65,680.45 L555.08,680.76 L558.51,681.08 L561.94,681.40 L565.37,681.72 L568.80,682.05 L572.24,682.37 L575.67,682.70 L579.10,683.03 L582.53,683.35 L585.96,683.69 L589.40,684.02 L592.83,684.35 L596.26,684.69 L599.69,685.02 L603.12,685.36 L606.55,685.70 L609.99,686.04 L613.42,686.39 L616.85,686.73 L620.28,687.08 L623.71,687.43 L627.15,687.78 L630.58,688.13 L634.01,688.48 L637.44,688.84 L640.87,689.20 L644.30,689.56 L647.74,689.92 L651.17,690.28 L654.60,690.64 L658.03,691.01 L661.46,691.38 L664.90,691.75 L668.33,692.12 L671.76,692.50 L675.19,692.87 L678.62,693.25 L682.05,693.63 L685.49,694.01 L688.92,694.40 L692.35,694.78 L695.78,695.17 L699.21,695.56 L702.65,695.96 L706.08,696.35 L709.51,696.75 L712.94,697.15 L716.37,697.55 L719.80,697.96 L723.24,698.37 L726.67,698.78 L730.10,699.19 L733.53,699.60 L736.96,700.02 L740.40,700.44 L743.83,700.86 L747.26,701.29 L750.69,701.72 L754.12,702.15 L757.55,702.58 L760.99,703.02 L764.42,703.46 L767.85,703.90 L771.28,704.34 L774.71,704.79 L778.15,705.24 L781.58,705.70 L785.01,706.15 L788.44,706.62 L791.87,707.08 L795.30,707.55 L798.74,708.02 L802.17,708.49 L805.60,708.96 L809.03,709.44 L812.46,709.93 L815.90,710.42 L819.33,710.91 L822.76,711.40 L826.19,711.90 L829.62,712.40 L832.96,712.89" fill="none" stroke="#1d4790" stroke-width="3.7"/>
<path d="M146.60,677.36 L148.32,677.37 L150.03,677.38 L151.75,677.39 L153.46,677.40 L155.18,677.41 L156.90,677.43 L158.61,677.44 L160.33,677.45 L162.04,677.47 L163.76,677.48 L165.47,677.50 L167.19,677.51 L168.91,677.53 L170.62,677.54 L172.34,677.56 L174.05,677.58 L175.77,677.60 L177.49,677.62 L179.20,677.64 L180.92,677.66 L182.63,677.68 L184.35,677.70 L186.07,677.72 L187.78,677.74 L189.50,677.77 L191.21,677.79 L192.93,677.81 L194.65,677.84 L196.36,677.86 L198.08,677.89 L199.79,677.91 L201.51,677.94 L203.22,677.97 L204.94,678.00 L206.66,678.03 L208.37,678.05 L210.09,678.08 L211.80,678.11 L213.52,678.14 L215.24,678.18 L216.95,678.21 L218.67,678.24 L220.38,678.27 L222.10,678.31 L223.82,678.34 L225.53,678.37 L227.25,678.41 L228.96,678.45 L230.68,678.48 L232.40,678.52 L234.11,678.56 L235.83,678.59 L237.54,678.63 L239.26,678.67 L240.97,678.71 L242.69,678.75 L244.41,678.79 L246.12,678.83 L247.84,678.87 L249.55,678.92 L251.27,678.96 L252.99,679.00 L254.70,679.05 L256.42,679.09 L258.13,679.13 L259.85,679.18 L261.57,679.23 L263.28,679.27 L265.00,679.32 L266.71,679.37 L268.43,679.41 L270.15,679.46 L271.86,679.51 L273.58,679.56 L275.29,679.61 L277.01,679.66 L277.10,679.67" fill="none" stroke="#1d4790" stroke-width="3.7" stroke-dasharray="6.2 4.86" stroke-dashoffset="2.20"/>
<path d="M277.10,679.67 L280.53,679.77 L283.96,679.87 L287.40,679.98 L290.83,680.09 L294.26,680.20 L297.69,680.32 L301.12,680.43 L304.55,680.55 L307.99,680.67 L311.42,680.79 L314.85,680.92 L318.28,681.04 L321.71,681.17 L325.15,681.30 L328.58,681.44 L332.01,681.57 L335.44,681.71 L338.87,681.85 L342.30,681.99 L345.74,682.13 L349.17,682.28 L352.60,682.42 L356.03,682.57 L359.46,682.72 L362.90,682.88 L366.33,683.03 L369.76,683.19 L373.19,683.35 L376.62,683.51 L380.05,683.68 L383.49,683.84 L386.92,684.01 L390.35,684.18 L393.78,684.35 L397.21,684.53 L400.65,684.70 L404.08,684.88 L407.51,685.06 L410.94,685.24 L414.37,685.43 L417.80,685.61 L421.24,685.80 L424.67,685.99 L428.10,686.19 L431.53,686.38 L434.96,686.58 L438.40,686.78 L441.83,686.98 L445.26,687.18 L448.69,687.38 L452.12,687.59 L455.55,687.80 L458.99,688.01 L462.42,688.22 L465.85,688.44 L469.28,688.65 L472.71,688.87 L476.15,689.10 L479.58,689.32 L483.01,689.54 L486.44,689.77 L489.87,690.00 L493.30,690.23 L496.74,690.46 L500.17,690.70 L503.60,690.94 L507.03,691.18 L510.46,691.42 L513.90,691.66 L517.33,691.91 L520.76,692.15 L524.19,692.40 L527.62,692.65 L531.05,692.91 L534.49,693.16 L537.92,693.42 L541.35,693.68 L544.78,693.94 L548.21,694.21 L551.65,694.47 L555.08,694.74 L558.51,695.01 L561.94,695.28 L565.37,695.55 L568.80,695.83 L572.24,696.11 L575.67,696.39 L579.10,696.67 L582.53,696.95 L585.96,697.24 L589.40,697.53 L592.83,697.82 L596.26,698.11 L599.69,698.40 L603.12,698.70 L606.55,699.00 L609.99,699.30 L613.42,699.60 L616.85,699.91 L620.28,700.21 L623.71,700.52 L627.15,700.83 L630.58,701.14 L634.01,701.46 L637.44,701.78 L640.87,702.09 L644.30,702.42 L647.74,702.74 L651.17,703.06 L654.60,703.39 L658.03,703.72 L661.46,704.05 L664.90,704.38 L668.33,704.72 L671.76,705.06 L675.19,705.40 L678.62,705.74 L682.05,706.08 L685.49,706.43 L688.92,706.78 L692.35,707.13 L695.78,707.48 L699.21,707.83 L702.65,708.19 L706.08,708.55 L709.51,708.91 L712.94,709.27 L716.37,709.64 L719.80,710.00 L723.24,710.37 L726.67,710.74 L730.10,711.12 L733.53,711.49 L736.96,711.87 L740.40,712.25 L743.83,712.63 L747.26,713.01 L750.69,713.40 L754.12,713.79 L757.55,714.18 L760.99,714.57 L764.42,714.97 L767.85,715.36 L771.28,715.76 L774.71,716.16 L778.15,716.57 L781.58,716.97 L785.01,717.38 L788.44,717.79 L791.87,718.20 L795.30,718.62 L798.74,719.03 L802.17,719.45 L805.60,719.87 L809.03,720.29 L812.46,720.72 L815.90,721.15 L819.33,721.58 L822.76,722.01 L826.19,722.44 L829.62,722.88 L832.96,723.31" fill="none" stroke="#1d4790" stroke-width="3.7"/>
<path d="M146.60,750.10 L148.32,745.89 L150.03,741.41 L151.75,736.71 L153.46,731.79 L155.18,726.69 L156.90,721.44 L158.61,716.07 L160.33,710.59 L162.04,705.05 L163.76,699.46 L165.47,693.85 L167.19,688.26 L168.91,682.70 L170.62,677.20 L172.34,671.80 L174.05,666.48 L175.77,661.25 L177.49,656.09 L179.20,651.00 L180.92,645.96 L182.63,640.98 L184.35,636.05 L186.07,631.15 L187.78,626.29 L189.50,621.46 L191.21,616.68 L192.93,611.92 L194.65,607.21 L196.36,602.52 L198.08,597.87 L199.79,593.24 L201.51,588.65 L203.22,584.08 L204.94,579.55 L206.66,575.04 L208.37,570.55 L210.09,566.09 L211.80,561.66 L213.52,557.24 L215.24,552.85 L216.95,548.49 L218.67,544.15 L220.38,539.83 L222.10,535.53 L223.82,531.26 L225.53,527.01 L227.25,522.79 L228.96,518.59 L230.68,514.41 L232.40,510.26 L234.11,506.13 L235.83,502.02 L237.54,497.94 L239.26,493.88 L240.97,489.84 L242.69,485.83 L244.41,481.84 L246.12,477.87 L247.84,473.93 L249.55,470.01 L251.27,466.11 L252.99,462.24 L254.70,458.39 L256.42,454.56 L258.13,450.76 L259.85,446.98 L261.57,443.23 L263.28,439.50 L265.00,435.79 L266.71,432.10 L268.43,428.44 L270.15,424.80 L271.86,421.19 L273.58,417.60 L275.29,414.03 L277.01,410.48 L278.73,406.96 L280.44,403.46 L282.16,399.99 L283.87,396.54" fill="none" stroke="#2379b5" stroke-width="2.6" stroke-dasharray="4.6 1.9"/>
<path d="M283.87,396.54 L287.30,389.71 L290.74,382.97 L294.17,376.32 L297.60,369.77 L301.03,363.31 L304.46,356.95 L307.90,350.67 L311.33,344.50 L314.76,338.41 L318.19,332.42 L321.62,326.52 L325.05,320.71 L328.49,315.00 L331.92,309.38 L335.35,303.85 L338.78,298.42 L342.21,293.08 L345.65,287.83 L349.08,282.67 L352.51,277.61 L355.94,272.63 L359.37,267.74 L362.80,262.94 L366.24,258.23 L369.67,253.60 L373.10,249.05 L376.53,244.59 L379.96,240.21 L383.40,235.91 L386.83,231.69 L390.26,227.55 L393.69,223.49 L397.12,219.50 L400.55,215.59 L403.99,211.76 L407.42,208.00 L410.85,204.31 L414.28,200.69 L417.71,197.15 L421.15,193.68 L424.58,190.27 L428.01,186.93 L431.44,183.66 L434.87,180.46 L438.30,177.32 L441.74,174.24 L445.17,171.24 L448.60,168.30 L452.03,165.44 L455.46,162.65 L458.90,159.93 L462.33,157.29 L465.76,154.72 L469.19,152.24 L472.62,149.83 L476.05,147.51 L479.49,145.27 L482.92,143.12 L486.35,141.05 L489.78,139.07 L493.21,137.19 L496.65,135.39 L500.08,133.67 L503.51,132.04 L506.94,130.50 L510.37,129.03 L513.80,127.64 L517.24,126.33 L520.67,125.10 L524.10,123.93 L527.53,122.84 L530.96,121.81 L534.40,120.86 L537.83,119.97 L541.26,119.14 L544.69,118.37 L548.12,117.66 L551.55,117.02 L554.99,116.44 L558.42,115.93 L561.85,115.48 L565.28,115.09 L568.71,114.78 L572.15,114.53 L575.58,114.35 L579.01,114.23 L582.44,114.19 L585.87,114.22 L589.30,114.31 L592.74,114.48 L596.17,114.73 L599.60,115.04 L603.03,115.43 L606.46,115.89 L609.90,116.43 L613.33,117.04 L616.76,117.73 L620.19,118.50 L623.62,119.35 L627.05,120.27 L630.49,121.28 L633.92,122.36 L637.35,123.53 L640.78,124.77 L644.21,126.10 L647.65,127.51 L651.08,129.01 L654.51,130.59 L657.94,132.26 L661.37,134.01 L664.80,135.85 L668.24,137.77 L671.67,139.79 L675.10,141.89 L678.53,144.09 L681.96,146.37 L685.40,148.74 L688.83,151.21 L692.26,153.77 L695.69,156.42 L699.12,159.16 L702.55,162.01 L705.99,164.95 L709.42,167.99 L712.85,171.15 L716.28,174.41 L719.71,177.78 L723.15,181.27 L726.58,184.88 L730.01,188.61 L733.44,192.46 L736.87,196.44 L740.30,200.55 L743.74,204.80 L747.17,209.18 L750.60,213.71 L754.03,218.37 L757.46,223.18 L760.90,228.15 L764.33,233.26 L767.76,238.53 L771.19,243.96 L774.62,249.54 L778.05,255.30 L781.49,261.22 L784.92,267.34 L788.35,273.66 L791.78,280.22 L795.21,287.03 L798.65,294.12 L802.08,301.50 L805.51,309.21 L808.94,317.25 L812.37,325.66 L815.80,334.45 L819.24,343.64 L822.67,353.27 L826.10,363.34 L829.53,373.88 L832.96,384.91" fill="none" stroke="#2379b5" stroke-width="2.4"/>
<circle cx="389.57" cy="228.37" r="3.1" fill="#2379b5"/>
<circle cx="591.71" cy="114.43" r="3.1" fill="#2379b5"/>
<circle cx="832.96" cy="384.91" r="3.1" fill="#2379b5"/>
<rect x="146.60" y="44.00" width="755.00" height="704.90" fill="none" stroke="#2e2e2e" stroke-width="1.9"/>
<line x1="146.60" y1="24.8" x2="901.60" y2="24.8" stroke="#9a9a9a" stroke-width="1.4"/>
<line x1="146.60" y1="20.2" x2="146.60" y2="24.8" stroke="#444" stroke-width="1"/>
<line x1="172.58" y1="20.2" x2="172.58" y2="24.8" stroke="#444" stroke-width="1"/>
<line x1="198.56" y1="20.2" x2="198.56" y2="24.8" stroke="#444" stroke-width="1"/>
<line x1="224.55" y1="20.2" x2="224.55" y2="24.8" stroke="#444" stroke-width="1"/>
<line x1="250.53" y1="20.2" x2="250.53" y2="24.8" stroke="#444" stroke-width="1"/>
<line x1="276.51" y1="20.2" x2="276.51" y2="24.8" stroke="#444" stroke-width="1"/>
<line x1="302.49" y1="20.2" x2="302.49" y2="24.8" stroke="#444" stroke-width="1"/>
<line x1="328.47" y1="20.2" x2="328.47" y2="24.8" stroke="#444" stroke-width="1"/>
<line x1="354.45" y1="20.2" x2="354.45" y2="24.8" stroke="#444" stroke-width="1"/>
<line x1="380.44" y1="20.2" x2="380.44" y2="24.8" stroke="#444" stroke-width="1"/>
<line x1="406.42" y1="20.2" x2="406.42" y2="24.8" stroke="#444" stroke-width="1"/>
<line x1="432.40" y1="20.2" x2="432.40" y2="24.8" stroke="#444" stroke-width="1"/>
<line x1="458.38" y1="20.2" x2="458.38" y2="24.8" stroke="#444" stroke-width="1"/>
<line x1="484.36" y1="20.2" x2="484.36" y2="24.8" stroke="#444" stroke-width="1"/>
<line x1="510.34" y1="20.2" x2="510.34" y2="24.8" stroke="#444" stroke-width="1"/>
<line x1="536.33" y1="20.2" x2="536.33" y2="24.8" stroke="#444" stroke-width="1"/>
<line x1="562.31" y1="20.2" x2="562.31" y2="24.8" stroke="#444" stroke-width="1"/>
<line x1="588.29" y1="20.2" x2="588.29" y2="24.8" stroke="#444" stroke-width="1"/>
<line x1="614.27" y1="20.2" x2="614.27" y2="24.8" stroke="#444" stroke-width="1"/>
<line x1="640.25" y1="20.2" x2="640.25" y2="24.8" stroke="#444" stroke-width="1"/>
<line x1="666.23" y1="20.2" x2="666.23" y2="24.8" stroke="#444" stroke-width="1"/>
<line x1="692.22" y1="20.2" x2="692.22" y2="24.8" stroke="#444" stroke-width="1"/>
<line x1="718.20" y1="20.2" x2="718.20" y2="24.8" stroke="#444" stroke-width="1"/>
<line x1="744.18" y1="20.2" x2="744.18" y2="24.8" stroke="#444" stroke-width="1"/>
<line x1="770.16" y1="20.2" x2="770.16" y2="24.8" stroke="#444" stroke-width="1"/>
<line x1="796.14" y1="20.2" x2="796.14" y2="24.8" stroke="#444" stroke-width="1"/>
<line x1="822.12" y1="20.2" x2="822.12" y2="24.8" stroke="#444" stroke-width="1"/>
<line x1="848.11" y1="20.2" x2="848.11" y2="24.8" stroke="#444" stroke-width="1"/>
<line x1="146.60" y1="39.1" x2="146.60" y2="44" stroke="#444" stroke-width="1"/>
<line x1="177.80" y1="39.1" x2="177.80" y2="44" stroke="#444" stroke-width="1"/>
<line x1="209.01" y1="39.1" x2="209.01" y2="44" stroke="#444" stroke-width="1"/>
<line x1="240.21" y1="39.1" x2="240.21" y2="44" stroke="#444" stroke-width="1"/>
<line x1="271.41" y1="39.1" x2="271.41" y2="44" stroke="#444" stroke-width="1"/>
<line x1="302.61" y1="39.1" x2="302.61" y2="44" stroke="#444" stroke-width="1"/>
<line x1="333.82" y1="39.1" x2="333.82" y2="44" stroke="#444" stroke-width="1"/>
<line x1="365.02" y1="39.1" x2="365.02" y2="44" stroke="#444" stroke-width="1"/>
<line x1="396.22" y1="39.1" x2="396.22" y2="44" stroke="#444" stroke-width="1"/>
<line x1="427.42" y1="39.1" x2="427.42" y2="44" stroke="#444" stroke-width="1"/>
<line x1="458.63" y1="39.1" x2="458.63" y2="44" stroke="#444" stroke-width="1"/>
<line x1="489.83" y1="39.1" x2="489.83" y2="44" stroke="#444" stroke-width="1"/>
<line x1="521.03" y1="39.1" x2="521.03" y2="44" stroke="#444" stroke-width="1"/>
<line x1="552.24" y1="39.1" x2="552.24" y2="44" stroke="#444" stroke-width="1"/>
<line x1="583.44" y1="39.1" x2="583.44" y2="44" stroke="#444" stroke-width="1"/>
<line x1="614.64" y1="39.1" x2="614.64" y2="44" stroke="#444" stroke-width="1"/>
<line x1="645.84" y1="39.1" x2="645.84" y2="44" stroke="#444" stroke-width="1"/>
<line x1="677.05" y1="39.1" x2="677.05" y2="44" stroke="#444" stroke-width="1"/>
<line x1="708.25" y1="39.1" x2="708.25" y2="44" stroke="#444" stroke-width="1"/>
<line x1="739.45" y1="39.1" x2="739.45" y2="44" stroke="#444" stroke-width="1"/>
<line x1="770.65" y1="39.1" x2="770.65" y2="44" stroke="#444" stroke-width="1"/>
<line x1="801.86" y1="39.1" x2="801.86" y2="44" stroke="#444" stroke-width="1"/>
<line x1="833.06" y1="39.1" x2="833.06" y2="44" stroke="#444" stroke-width="1"/>
<text transform="translate(146.60,17.60) scale(0.88,1)" font-family='"Liberation Sans", sans-serif' font-size="10.6" font-weight="normal" text-anchor="middle" fill="#222">0</text>
<text transform="translate(276.51,17.60) scale(0.88,1)" font-family='"Liberation Sans", sans-serif' font-size="10.6" font-weight="normal" text-anchor="middle" fill="#222">5</text>
<text transform="translate(406.42,17.60) scale(0.88,1)" font-family='"Liberation Sans", sans-serif' font-size="10.6" font-weight="normal" text-anchor="middle" fill="#222">10</text>
<text transform="translate(536.33,17.60) scale(0.88,1)" font-family='"Liberation Sans", sans-serif' font-size="10.6" font-weight="normal" text-anchor="middle" fill="#222">15</text>
<text transform="translate(666.23,17.60) scale(0.88,1)" font-family='"Liberation Sans", sans-serif' font-size="10.6" font-weight="normal" text-anchor="middle" fill="#222">20</text>
<text transform="translate(796.14,17.60) scale(0.88,1)" font-family='"Liberation Sans", sans-serif' font-size="10.6" font-weight="normal" text-anchor="middle" fill="#222">25</text>
<text transform="translate(146.60,36.70) scale(0.88,1)" font-family='"Liberation Sans", sans-serif' font-size="10.6" font-weight="normal" text-anchor="middle" fill="#222">0</text>
<text transform="translate(302.61,36.70) scale(0.88,1)" font-family='"Liberation Sans", sans-serif' font-size="10.6" font-weight="normal" text-anchor="middle" fill="#222">5</text>
<text transform="translate(458.63,36.70) scale(0.88,1)" font-family='"Liberation Sans", sans-serif' font-size="10.6" font-weight="normal" text-anchor="middle" fill="#222">10</text>
<text transform="translate(614.64,36.70) scale(0.88,1)" font-family='"Liberation Sans", sans-serif' font-size="10.6" font-weight="normal" text-anchor="middle" fill="#222">15</text>
<text transform="translate(770.65,36.70) scale(0.88,1)" font-family='"Liberation Sans", sans-serif' font-size="10.6" font-weight="normal" text-anchor="middle" fill="#222">20</text>
<text transform="translate(902.80,17.70) scale(0.86,1)" font-family='"Liberation Sans", sans-serif' font-size="10.6" font-weight="normal" text-anchor="end" fill="#222">US g.p.m.</text>
<text transform="translate(902.80,36.90) scale(0.86,1)" font-family='"Liberation Sans", sans-serif' font-size="10.6" font-weight="normal" text-anchor="end" fill="#222">Imp g.p.m.</text>
<line x1="901.60" y1="749.60" x2="905.8" y2="749.60" stroke="#2e2e2e" stroke-width="1.2"/>
<line x1="901.60" y1="725.70" x2="905.8" y2="725.70" stroke="#2e2e2e" stroke-width="1.2"/>
<line x1="901.60" y1="701.81" x2="905.8" y2="701.81" stroke="#2e2e2e" stroke-width="1.2"/>
<line x1="901.60" y1="677.91" x2="905.8" y2="677.91" stroke="#2e2e2e" stroke-width="1.2"/>
<line x1="901.60" y1="654.01" x2="905.8" y2="654.01" stroke="#2e2e2e" stroke-width="1.2"/>
<line x1="901.60" y1="630.12" x2="905.8" y2="630.12" stroke="#2e2e2e" stroke-width="1.2"/>
<line x1="901.60" y1="606.22" x2="905.8" y2="606.22" stroke="#2e2e2e" stroke-width="1.2"/>
<line x1="901.60" y1="582.33" x2="905.8" y2="582.33" stroke="#2e2e2e" stroke-width="1.2"/>
<line x1="901.60" y1="558.43" x2="905.8" y2="558.43" stroke="#2e2e2e" stroke-width="1.2"/>
<line x1="901.60" y1="534.53" x2="905.8" y2="534.53" stroke="#2e2e2e" stroke-width="1.2"/>
<line x1="901.60" y1="510.64" x2="905.8" y2="510.64" stroke="#2e2e2e" stroke-width="1.2"/>
<line x1="901.60" y1="486.74" x2="905.8" y2="486.74" stroke="#2e2e2e" stroke-width="1.2"/>
<line x1="901.60" y1="462.84" x2="905.8" y2="462.84" stroke="#2e2e2e" stroke-width="1.2"/>
<line x1="901.60" y1="438.95" x2="905.8" y2="438.95" stroke="#2e2e2e" stroke-width="1.2"/>
<line x1="901.60" y1="415.05" x2="905.8" y2="415.05" stroke="#2e2e2e" stroke-width="1.2"/>
<line x1="901.60" y1="391.16" x2="905.8" y2="391.16" stroke="#2e2e2e" stroke-width="1.2"/>
<line x1="901.60" y1="367.26" x2="905.8" y2="367.26" stroke="#2e2e2e" stroke-width="1.2"/>
<line x1="901.60" y1="343.36" x2="905.8" y2="343.36" stroke="#2e2e2e" stroke-width="1.2"/>
<line x1="901.60" y1="319.47" x2="905.8" y2="319.47" stroke="#2e2e2e" stroke-width="1.2"/>
<line x1="901.60" y1="295.57" x2="905.8" y2="295.57" stroke="#2e2e2e" stroke-width="1.2"/>
<line x1="901.60" y1="271.67" x2="905.8" y2="271.67" stroke="#2e2e2e" stroke-width="1.2"/>
<line x1="901.60" y1="247.78" x2="905.8" y2="247.78" stroke="#2e2e2e" stroke-width="1.2"/>
<line x1="901.60" y1="223.88" x2="905.8" y2="223.88" stroke="#2e2e2e" stroke-width="1.2"/>
<line x1="901.60" y1="199.98" x2="905.8" y2="199.98" stroke="#2e2e2e" stroke-width="1.2"/>
<line x1="901.60" y1="176.09" x2="905.8" y2="176.09" stroke="#2e2e2e" stroke-width="1.2"/>
<line x1="901.60" y1="152.19" x2="905.8" y2="152.19" stroke="#2e2e2e" stroke-width="1.2"/>
<line x1="901.60" y1="128.30" x2="905.8" y2="128.30" stroke="#2e2e2e" stroke-width="1.2"/>
<line x1="901.60" y1="104.40" x2="905.8" y2="104.40" stroke="#2e2e2e" stroke-width="1.2"/>
<line x1="901.60" y1="80.50" x2="905.8" y2="80.50" stroke="#2e2e2e" stroke-width="1.2"/>
<line x1="901.60" y1="56.61" x2="905.8" y2="56.61" stroke="#2e2e2e" stroke-width="1.2"/>
<text transform="translate(908.50,753.40) scale(0.86,1)" font-family='"Liberation Sans", sans-serif' font-size="10.6" font-weight="normal" text-anchor="start" fill="#222">0</text>
<text transform="translate(908.50,705.61) scale(0.86,1)" font-family='"Liberation Sans", sans-serif' font-size="10.6" font-weight="normal" text-anchor="start" fill="#222">100</text>
<text transform="translate(908.50,657.81) scale(0.86,1)" font-family='"Liberation Sans", sans-serif' font-size="10.6" font-weight="normal" text-anchor="start" fill="#222">200</text>
<text transform="translate(908.50,610.02) scale(0.86,1)" font-family='"Liberation Sans", sans-serif' font-size="10.6" font-weight="normal" text-anchor="start" fill="#222">300</text>
<text transform="translate(908.50,562.23) scale(0.86,1)" font-family='"Liberation Sans", sans-serif' font-size="10.6" font-weight="normal" text-anchor="start" fill="#222">400</text>
<text transform="translate(908.50,514.44) scale(0.86,1)" font-family='"Liberation Sans", sans-serif' font-size="10.6" font-weight="normal" text-anchor="start" fill="#222">500</text>
<text transform="translate(908.50,466.64) scale(0.86,1)" font-family='"Liberation Sans", sans-serif' font-size="10.6" font-weight="normal" text-anchor="start" fill="#222">600</text>
<text transform="translate(908.50,418.85) scale(0.86,1)" font-family='"Liberation Sans", sans-serif' font-size="10.6" font-weight="normal" text-anchor="start" fill="#222">700</text>
<text transform="translate(908.50,371.06) scale(0.86,1)" font-family='"Liberation Sans", sans-serif' font-size="10.6" font-weight="normal" text-anchor="start" fill="#222">800</text>
<text transform="translate(908.50,323.27) scale(0.86,1)" font-family='"Liberation Sans", sans-serif' font-size="10.6" font-weight="normal" text-anchor="start" fill="#222">900</text>
<text transform="translate(908.50,275.47) scale(0.86,1)" font-family='"Liberation Sans", sans-serif' font-size="10.6" font-weight="normal" text-anchor="start" fill="#222">1000</text>
<text transform="translate(908.50,227.68) scale(0.86,1)" font-family='"Liberation Sans", sans-serif' font-size="10.6" font-weight="normal" text-anchor="start" fill="#222">1100</text>
<text transform="translate(908.50,179.89) scale(0.86,1)" font-family='"Liberation Sans", sans-serif' font-size="10.6" font-weight="normal" text-anchor="start" fill="#222">1200</text>
<text transform="translate(908.50,132.10) scale(0.86,1)" font-family='"Liberation Sans", sans-serif' font-size="10.6" font-weight="normal" text-anchor="start" fill="#222">1300</text>
<text transform="translate(908.50,84.30) scale(0.86,1)" font-family='"Liberation Sans", sans-serif' font-size="10.6" font-weight="normal" text-anchor="start" fill="#222">1400</text>
<text transform="translate(908.40,52.30) scale(0.86,1)" font-family='"Liberation Sans", sans-serif' font-size="10.6" font-weight="normal" text-anchor="start" fill="#222">feet</text>
<text transform="translate(140.50,754.70) scale(0.83,1)" font-family='"Liberation Sans", sans-serif' font-size="14.2" font-weight="bold" text-anchor="end" fill="#222">0</text>
<text transform="translate(140.50,676.30) scale(0.83,1)" font-family='"Liberation Sans", sans-serif' font-size="14.2" font-weight="bold" text-anchor="end" fill="#222">50</text>
<text transform="translate(140.50,597.90) scale(0.83,1)" font-family='"Liberation Sans", sans-serif' font-size="14.2" font-weight="bold" text-anchor="end" fill="#222">100</text>
<text transform="translate(140.50,519.50) scale(0.83,1)" font-family='"Liberation Sans", sans-serif' font-size="14.2" font-weight="bold" text-anchor="end" fill="#222">150</text>
<text transform="translate(140.50,441.10) scale(0.83,1)" font-family='"Liberation Sans", sans-serif' font-size="14.2" font-weight="bold" text-anchor="end" fill="#222">200</text>
<text transform="translate(140.50,362.70) scale(0.83,1)" font-family='"Liberation Sans", sans-serif' font-size="14.2" font-weight="bold" text-anchor="end" fill="#222">250</text>
<text transform="translate(140.50,284.30) scale(0.83,1)" font-family='"Liberation Sans", sans-serif' font-size="14.2" font-weight="bold" text-anchor="end" fill="#222">300</text>
<text transform="translate(140.50,205.90) scale(0.83,1)" font-family='"Liberation Sans", sans-serif' font-size="14.2" font-weight="bold" text-anchor="end" fill="#222">350</text>
<text transform="translate(140.50,127.50) scale(0.83,1)" font-family='"Liberation Sans", sans-serif' font-size="14.2" font-weight="bold" text-anchor="end" fill="#222">400</text>
<text transform="translate(140.50,49.10) scale(0.83,1)" font-family='"Liberation Sans", sans-serif' font-size="14.2" font-weight="bold" text-anchor="end" fill="#222">450</text>
<text transform="translate(146.60,765.00) scale(0.78,1)" font-family='"Liberation Sans", sans-serif' font-size="14.6" font-weight="bold" text-anchor="middle" fill="#222">0</text>
<text transform="translate(215.24,765.00) scale(0.78,1)" font-family='"Liberation Sans", sans-serif' font-size="14.6" font-weight="bold" text-anchor="middle" fill="#222">10</text>
<text transform="translate(283.87,765.00) scale(0.78,1)" font-family='"Liberation Sans", sans-serif' font-size="14.6" font-weight="bold" text-anchor="middle" fill="#222">20</text>
<text transform="translate(352.51,765.00) scale(0.78,1)" font-family='"Liberation Sans", sans-serif' font-size="14.6" font-weight="bold" text-anchor="middle" fill="#222">30</text>
<text transform="translate(421.15,765.00) scale(0.78,1)" font-family='"Liberation Sans", sans-serif' font-size="14.6" font-weight="bold" text-anchor="middle" fill="#222">40</text>
<text transform="translate(489.78,765.00) scale(0.78,1)" font-family='"Liberation Sans", sans-serif' font-size="14.6" font-weight="bold" text-anchor="middle" fill="#222">50</text>
<text transform="translate(558.42,765.00) scale(0.78,1)" font-family='"Liberation Sans", sans-serif' font-size="14.6" font-weight="bold" text-anchor="middle" fill="#222">60</text>
<text transform="translate(627.05,765.00) scale(0.78,1)" font-family='"Liberation Sans", sans-serif' font-size="14.6" font-weight="bold" text-anchor="middle" fill="#222">70</text>
<text transform="translate(695.69,765.00) scale(0.78,1)" font-family='"Liberation Sans", sans-serif' font-size="14.6" font-weight="bold" text-anchor="middle" fill="#222">80</text>
<text transform="translate(764.33,765.00) scale(0.78,1)" font-family='"Liberation Sans", sans-serif' font-size="14.6" font-weight="bold" text-anchor="middle" fill="#222">90</text>
<text transform="translate(832.96,765.00) scale(0.78,1)" font-family='"Liberation Sans", sans-serif' font-size="14.6" font-weight="bold" text-anchor="middle" fill="#222">100</text>
<text transform="translate(901.20,765.00) scale(0.78,1)" font-family='"Liberation Sans", sans-serif' font-size="14.6" font-weight="bold" text-anchor="end" fill="#222">l/min</text>
<line x1="146.60" y1="772.4" x2="901.60" y2="772.4" stroke="#8a8a8a" stroke-width="1.4"/>
<line x1="146.60" y1="772.4" x2="146.60" y2="775.9" stroke="#444" stroke-width="1"/>
<line x1="175.20" y1="772.4" x2="175.20" y2="775.9" stroke="#444" stroke-width="1"/>
<line x1="203.80" y1="772.4" x2="203.80" y2="775.9" stroke="#444" stroke-width="1"/>
<line x1="232.40" y1="772.4" x2="232.40" y2="775.9" stroke="#444" stroke-width="1"/>
<line x1="260.99" y1="772.4" x2="260.99" y2="775.9" stroke="#444" stroke-width="1"/>
<line x1="289.59" y1="772.4" x2="289.59" y2="775.9" stroke="#444" stroke-width="1"/>
<line x1="318.19" y1="772.4" x2="318.19" y2="775.9" stroke="#444" stroke-width="1"/>
<line x1="346.79" y1="772.4" x2="346.79" y2="775.9" stroke="#444" stroke-width="1"/>
<line x1="375.39" y1="772.4" x2="375.39" y2="775.9" stroke="#444" stroke-width="1"/>
<line x1="403.99" y1="772.4" x2="403.99" y2="775.9" stroke="#444" stroke-width="1"/>
<line x1="432.58" y1="772.4" x2="432.58" y2="775.9" stroke="#444" stroke-width="1"/>
<line x1="461.18" y1="772.4" x2="461.18" y2="775.9" stroke="#444" stroke-width="1"/>
<line x1="489.78" y1="772.4" x2="489.78" y2="775.9" stroke="#444" stroke-width="1"/>
<line x1="518.38" y1="772.4" x2="518.38" y2="775.9" stroke="#444" stroke-width="1"/>
<line x1="546.98" y1="772.4" x2="546.98" y2="775.9" stroke="#444" stroke-width="1"/>
<line x1="575.58" y1="772.4" x2="575.58" y2="775.9" stroke="#444" stroke-width="1"/>
<line x1="604.18" y1="772.4" x2="604.18" y2="775.9" stroke="#444" stroke-width="1"/>
<line x1="632.77" y1="772.4" x2="632.77" y2="775.9" stroke="#444" stroke-width="1"/>
<line x1="661.37" y1="772.4" x2="661.37" y2="775.9" stroke="#444" stroke-width="1"/>
<line x1="689.97" y1="772.4" x2="689.97" y2="775.9" stroke="#444" stroke-width="1"/>
<line x1="718.57" y1="772.4" x2="718.57" y2="775.9" stroke="#444" stroke-width="1"/>
<line x1="747.17" y1="772.4" x2="747.17" y2="775.9" stroke="#444" stroke-width="1"/>
<line x1="775.77" y1="772.4" x2="775.77" y2="775.9" stroke="#444" stroke-width="1"/>
<line x1="804.37" y1="772.4" x2="804.37" y2="775.9" stroke="#444" stroke-width="1"/>
<line x1="832.96" y1="772.4" x2="832.96" y2="775.9" stroke="#444" stroke-width="1"/>
<line x1="861.56" y1="772.4" x2="861.56" y2="775.9" stroke="#444" stroke-width="1"/>
<text transform="translate(146.60,786.80) scale(0.88,1)" font-family='"Liberation Sans", sans-serif' font-size="10.2" font-weight="normal" text-anchor="middle" fill="#222">0</text>
<text transform="translate(203.80,786.80) scale(0.88,1)" font-family='"Liberation Sans", sans-serif' font-size="10.2" font-weight="normal" text-anchor="middle" fill="#222">0.5</text>
<text transform="translate(260.99,786.80) scale(0.88,1)" font-family='"Liberation Sans", sans-serif' font-size="10.2" font-weight="normal" text-anchor="middle" fill="#222">1</text>
<text transform="translate(318.19,786.80) scale(0.88,1)" font-family='"Liberation Sans", sans-serif' font-size="10.2" font-weight="normal" text-anchor="middle" fill="#222">1.5</text>
<text transform="translate(375.39,786.80) scale(0.88,1)" font-family='"Liberation Sans", sans-serif' font-size="10.2" font-weight="normal" text-anchor="middle" fill="#222">2</text>
<text transform="translate(432.58,786.80) scale(0.88,1)" font-family='"Liberation Sans", sans-serif' font-size="10.2" font-weight="normal" text-anchor="middle" fill="#222">2.5</text>
<text transform="translate(489.78,786.80) scale(0.88,1)" font-family='"Liberation Sans", sans-serif' font-size="10.2" font-weight="normal" text-anchor="middle" fill="#222">3</text>
<text transform="translate(546.98,786.80) scale(0.88,1)" font-family='"Liberation Sans", sans-serif' font-size="10.2" font-weight="normal" text-anchor="middle" fill="#222">3.5</text>
<text transform="translate(604.18,786.80) scale(0.88,1)" font-family='"Liberation Sans", sans-serif' font-size="10.2" font-weight="normal" text-anchor="middle" fill="#222">4</text>
<text transform="translate(661.37,786.80) scale(0.88,1)" font-family='"Liberation Sans", sans-serif' font-size="10.2" font-weight="normal" text-anchor="middle" fill="#222">4.5</text>
<text transform="translate(718.57,786.80) scale(0.88,1)" font-family='"Liberation Sans", sans-serif' font-size="10.2" font-weight="normal" text-anchor="middle" fill="#222">5</text>
<text transform="translate(775.77,786.80) scale(0.88,1)" font-family='"Liberation Sans", sans-serif' font-size="10.2" font-weight="normal" text-anchor="middle" fill="#222">5.5</text>
<text transform="translate(832.96,786.80) scale(0.88,1)" font-family='"Liberation Sans", sans-serif' font-size="10.2" font-weight="normal" text-anchor="middle" fill="#222">6</text>
<text transform="translate(901.20,786.80) scale(0.86,1)" font-family='"Liberation Sans", sans-serif' font-size="10.2" font-weight="normal" text-anchor="end" fill="#222">m³/h</text>
<line x1="146.30" y1="808.9" x2="901.60" y2="808.9" stroke="#8f8f8f" stroke-width="1.7"/>
<text x="442.1" y="804.9" font-family='"Liberation Sans", sans-serif' font-size="13.4" font-weight="bold" fill="#222" textLength="155.5" lengthAdjust="spacingAndGlyphs">Производительность Q</text>
<path d="M607.1,796.2 L611.8,800.0 L607.1,803.8 Z" fill="#222"/>
<line x1="99.6" y1="10.3" x2="99.6" y2="785.7" stroke="#555" stroke-width="1.2"/>
<text transform="translate(112.5,460.2) rotate(-90)" font-family='"Liberation Sans", sans-serif' font-size="12.6" font-weight="bold" fill="#222" textLength="109.8" lengthAdjust="spacingAndGlyphs">Напор H (метры)</text>
<path d="M104.7,341.2 L108.5,335.9 L112.4,341.2 Z" fill="#222"/>
<text x="285.5" y="145.40" font-family='"Liberation Sans", sans-serif' font-size="13.2" font-weight="bold" fill="#222" textLength="44.3" lengthAdjust="spacingAndGlyphs">4SR4/60</text>
<text x="285.5" y="285.70" font-family='"Liberation Sans", sans-serif' font-size="13.2" font-weight="bold" fill="#222" textLength="44.3" lengthAdjust="spacingAndGlyphs">4SR4/46</text>
<text x="285.5" y="399.80" font-family='"Liberation Sans", sans-serif' font-size="13.2" font-weight="bold" fill="#222" textLength="44.3" lengthAdjust="spacingAndGlyphs">4SR4/35</text>
<text x="285.5" y="492.10" font-family='"Liberation Sans", sans-serif' font-size="13.2" font-weight="bold" fill="#222" textLength="44.3" lengthAdjust="spacingAndGlyphs">4SR4/26</text>
<text x="285.5" y="566.30" font-family='"Liberation Sans", sans-serif' font-size="13.2" font-weight="bold" fill="#222" textLength="44.3" lengthAdjust="spacingAndGlyphs">4SR4/18</text>
<text x="285.5" y="606.90" font-family='"Liberation Sans", sans-serif' font-size="13.2" font-weight="bold" fill="#222" textLength="44.3" lengthAdjust="spacingAndGlyphs">4SR4/14</text>
<text x="285.5" y="656.90" font-family='"Liberation Sans", sans-serif' font-size="13.2" font-weight="bold" fill="#222" textLength="38.4" lengthAdjust="spacingAndGlyphs">4SR4/9</text>
<text x="285.5" y="676.50" font-family='"Liberation Sans", sans-serif' font-size="13.2" font-weight="bold" fill="#222" textLength="38.4" lengthAdjust="spacingAndGlyphs">4SR4/7</text>
<text x="371.7" y="225.9" font-family='"DejaVu Sans", "Liberation Sans", sans-serif' font-size="9.3" font-weight="bold" fill="#222" textLength="12.4" lengthAdjust="spacingAndGlyphs">48</text>
<text x="838.8" y="386.4" font-family='"DejaVu Sans", "Liberation Sans", sans-serif' font-size="9.9" font-weight="bold" fill="#222">35</text>
<text x="575.2" y="105.4" font-family='"DejaVu Sans", "Liberation Sans", sans-serif' font-size="9.4" fill="#222" textLength="39.2" lengthAdjust="spacingAndGlyphs">η = <tspan font-weight="bold" font-size="8.8">58%</tspan></text>
</svg>
</body></html>
